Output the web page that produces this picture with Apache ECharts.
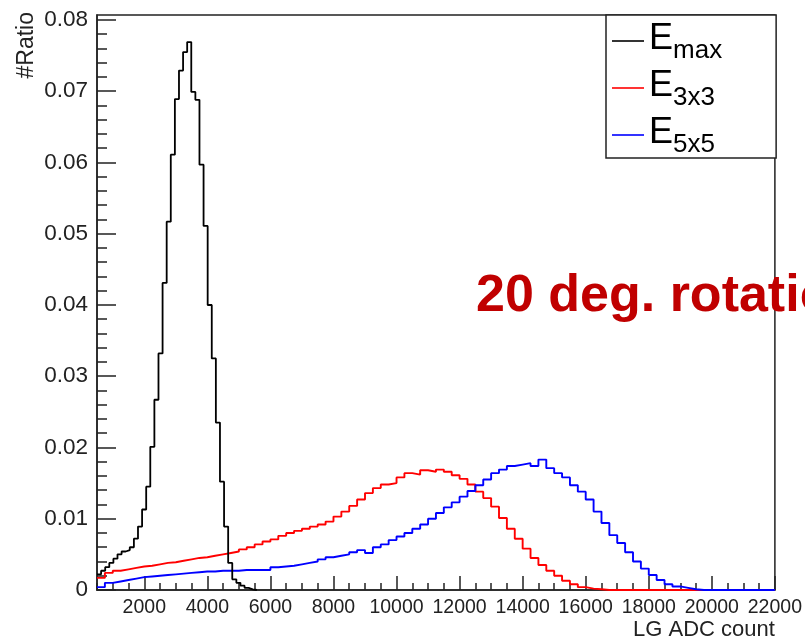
<!DOCTYPE html>
<html><head><meta charset="utf-8">
<script src="https://cdn.jsdelivr.net/npm/echarts@6/dist/echarts.min.js"></script>
<style>html,body{margin:0;padding:0;background:#fff}#c{width:805px;height:644px}</style>
</head><body><div id="c"></div>
<script>
// ---- data ----
const seriesNames = ['Emax', 'E3x3', 'E5x5'];
const subscripts = ['max', '3x3', '5x5'];
const xMin = 500, xMax = 22000;
const yMax = 0.0807;
const xTickLabels = [2000, 4000, 6000, 8000, 10000, 12000, 14000, 16000, 18000, 20000, 22000];
const xMinorTicks = [500,1000,1500,2000,2500,3000,3500,4000,4500,5000,5500,6000,6500,7000,7500,8000,8500,9000,9500,10000,10500,11000,11500,12000,12500,13000,13500,14000,14500,15000,15500,16000,16500,17000,17500,18000,18500,19000,19500,20000,20500,21000,21500,22000];
const yTickLabels = [0, 0.01, 0.02, 0.03, 0.04, 0.05, 0.06, 0.07, 0.08];
const yMinorTicks = [0.002,0.004,0.006,0.008,0.012,0.014,0.016,0.018,0.022,0.024,0.026,0.028,0.032,0.034,0.036,0.038,0.042,0.044,0.046,0.048,0.052,0.054,0.056,0.058,0.062,0.064,0.066,0.068,0.072,0.074,0.076,0.078];

// Emax histogram: bins of 130 starting at 500
const emaxBinStart = 500, emaxBinWidth = 130;
const emaxValues = [
  0.0022,0.0027,0.0032,0.0038,0.0044,0.0050,0.0054,0.0056,0.0060,0.0072,
  0.0089,0.0113,0.0145,0.0201,0.0267,0.0332,0.0431,0.0517,0.0611,0.0689,
  0.0729,0.0755,0.0769,0.0699,0.0688,0.0597,0.0511,0.0400,0.0325,0.0235,
  0.0152,0.0089,0.0038,0.0015,0.0010,0.0006,0.0003,0.0001,0
];
// E3x3 and E5x5 histograms: bins of 250 starting at 500
const wideBinStart = 500, wideBinWidth = 250;
const e3x3Values = [
  0.0017,0.0024,0.0027,0.0029,0.0031,0.0033,0.0034,0.0036,0.0038,0.0039,
  0.0041,0.0043,0.0045,0.0046,0.0048,0.0050,0.0052,0.0054,0.0057,0.0060,
  0.0064,0.0068,0.0071,0.0076,0.0080,0.0083,0.0086,0.0089,0.0092,0.0096,
  0.0103,0.0110,0.0118,0.0127,0.0136,0.0143,0.0148,0.0150,0.0158,0.0164,
  0.0162,0.0168,0.0166,0.0169,0.0166,0.0161,0.0156,0.0148,0.0138,0.0129,
  0.0117,0.0101,0.0086,0.0072,0.0058,0.0045,0.0035,0.0027,0.0020,0.0013,
  0.0008,0.0004,0.0002,0.0001,0,0,0,0,0,0,
  0,0,0,0,0,0,0,0,0,0,
  0,0,0,0,0,0
];
const e5x5Values = [
  0.0004,0.0010,0.0012,0.0014,0.0016,0.0018,0.0019,0.0020,0.0021,0.0022,
  0.0023,0.0024,0.0025,0.0026,0.0026,0.0027,0.0027,0.0027,0.0028,0.0028,
  0.0028,0.0028,0.0032,0.0033,0.0034,0.0036,0.0038,0.0040,0.0043,0.0046,
  0.0048,0.0050,0.0053,0.0056,0.0052,0.0060,0.0064,0.0070,0.0075,0.0080,
  0.0086,0.0092,0.0100,0.0108,0.0116,0.0123,0.0131,0.0139,0.0147,0.0155,
  0.0164,0.0169,0.0174,0.0176,0.0178,0.0174,0.0183,0.0171,0.0164,0.0158,
  0.0147,0.0138,0.0127,0.0110,0.0094,0.0077,0.0066,0.0053,0.0040,0.0030,
  0.0021,0.0014,0.0008,0.0005,0.0003,0.0001,0,0,0,0,
  0,0,0,0,0,0
];

function histPoints(start, width, values) {
  const pts = values.map((v, i) => [start + i * width, v]);
  pts.push([start + values.length * width, values[values.length - 1]]);
  return pts.filter(p => p[0] <= xMax);
}

const colors = ['#000000', '#ff0000', '#0000ff'];
const FONT = 'Liberation Sans, Arial, Helvetica, sans-serif';
const axisColor = '#222';

const chart = echarts.init(document.getElementById('c'), null, {renderer: 'canvas'});
chart.setOption({
  animation: false,
  backgroundColor: '#fff',
  grid: {left: 97, right: 27, top: 15, bottom: 54, show: true, borderColor: axisColor, borderWidth: 1.5, backgroundColor: 'transparent'},
  title: {
    text: '20 deg. rotation', left: 471, top: 266,
    textStyle: {color: '#c00000', fontSize: 52, fontWeight: 'bold', fontFamily: FONT}
  },
  legend: {
    orient: 'vertical', left: 606, top: 15,
    padding: [6, 54, 0, 6], itemGap: 4, itemWidth: 32, itemHeight: 1.6, icon: 'rect',
    borderColor: axisColor, borderWidth: 1.5, backgroundColor: '#fff',
    data: seriesNames,
    formatter: function (name) { return '{E|E}{s|' + subscripts[seriesNames.indexOf(name)] + '}'; },
    textStyle: {
      fontFamily: FONT, color: '#000',
      rich: {
        E: {fontSize: 36, fontFamily: FONT, color: '#000', verticalAlign: 'top', lineHeight: 40},
        s: {fontSize: 26, fontFamily: FONT, color: '#000', verticalAlign: 'top', padding: [17, 0, 0, 0], lineHeight: 26}
      }
    }
  },
  xAxis: [{
    type: 'value', min: xMin, max: xMax, position: 'bottom',
    axisLine: {show: true, onZero: false, lineStyle: {color: axisColor, width: 1.5}},
    axisTick: {show: true, inside: true, length: 14, customValues: xTickLabels, lineStyle: {color: axisColor, width: 1.5}},
    axisLabel: {customValues: xTickLabels, fontSize: 19.5, color: '#222', margin: 8, fontFamily: FONT,
      formatter: v => String(v)},
    splitLine: {show: false},
    name: 'LG ADC count', nameLocation: 'end', nameGap: 0,
    nameTextStyle: {fontFamily: FONT, fontSize: 22, color: '#222', align: 'right', verticalAlign: 'top', padding: [29, 0, 0, 0]}
  }, {
    type: 'value', min: xMin, max: xMax, position: 'bottom',
    axisLine: {show: false},
    axisTick: {show: true, inside: true, length: 7, customValues: xMinorTicks, lineStyle: {color: axisColor, width: 1.5}},
    axisLabel: {show: false}, splitLine: {show: false}
  }],
  yAxis: [{
    type: 'value', min: 0, max: yMax, position: 'left',
    axisLine: {show: true, onZero: false, lineStyle: {color: axisColor, width: 1.5}},
    axisTick: {show: true, inside: true, length: 19, customValues: yTickLabels, lineStyle: {color: axisColor, width: 1.5}},
    axisLabel: {customValues: yTickLabels, fontSize: 22.5, color: '#222', margin: 9, fontFamily: FONT,
      formatter: v => (v === 0 ? '0' : v.toFixed(2))},
    splitLine: {show: false}
  }, {
    type: 'value', min: 0, max: yMax, position: 'left',
    axisLine: {show: false},
    axisTick: {show: true, inside: true, length: 10, customValues: yMinorTicks, lineStyle: {color: axisColor, width: 1.5}},
    axisLabel: {show: false}, splitLine: {show: false}
  }],
  graphic: [{
    type: 'text', x: 38, y: 12, rotation: Math.PI / 2,
    style: {text: '#Ratio', font: '23px ' + FONT, fill: '#222', align: 'right', verticalAlign: 'bottom'}
  }],
  series: [
    {name: seriesNames[0], type: 'line', step: 'end', symbol: 'none', data: histPoints(emaxBinStart, emaxBinWidth, emaxValues), lineStyle: {color: colors[0], width: 1.8}, itemStyle: {color: colors[0]}, z: 3},
    {name: seriesNames[1], type: 'line', step: 'end', symbol: 'none', data: histPoints(wideBinStart, wideBinWidth, e3x3Values), lineStyle: {color: colors[1], width: 1.9}, itemStyle: {color: colors[1]}, z: 2},
    {name: seriesNames[2], type: 'line', step: 'end', symbol: 'none', data: histPoints(wideBinStart, wideBinWidth, e5x5Values), lineStyle: {color: colors[2], width: 1.9}, itemStyle: {color: colors[2]}, z: 2}
  ]
});
</script></body></html>
